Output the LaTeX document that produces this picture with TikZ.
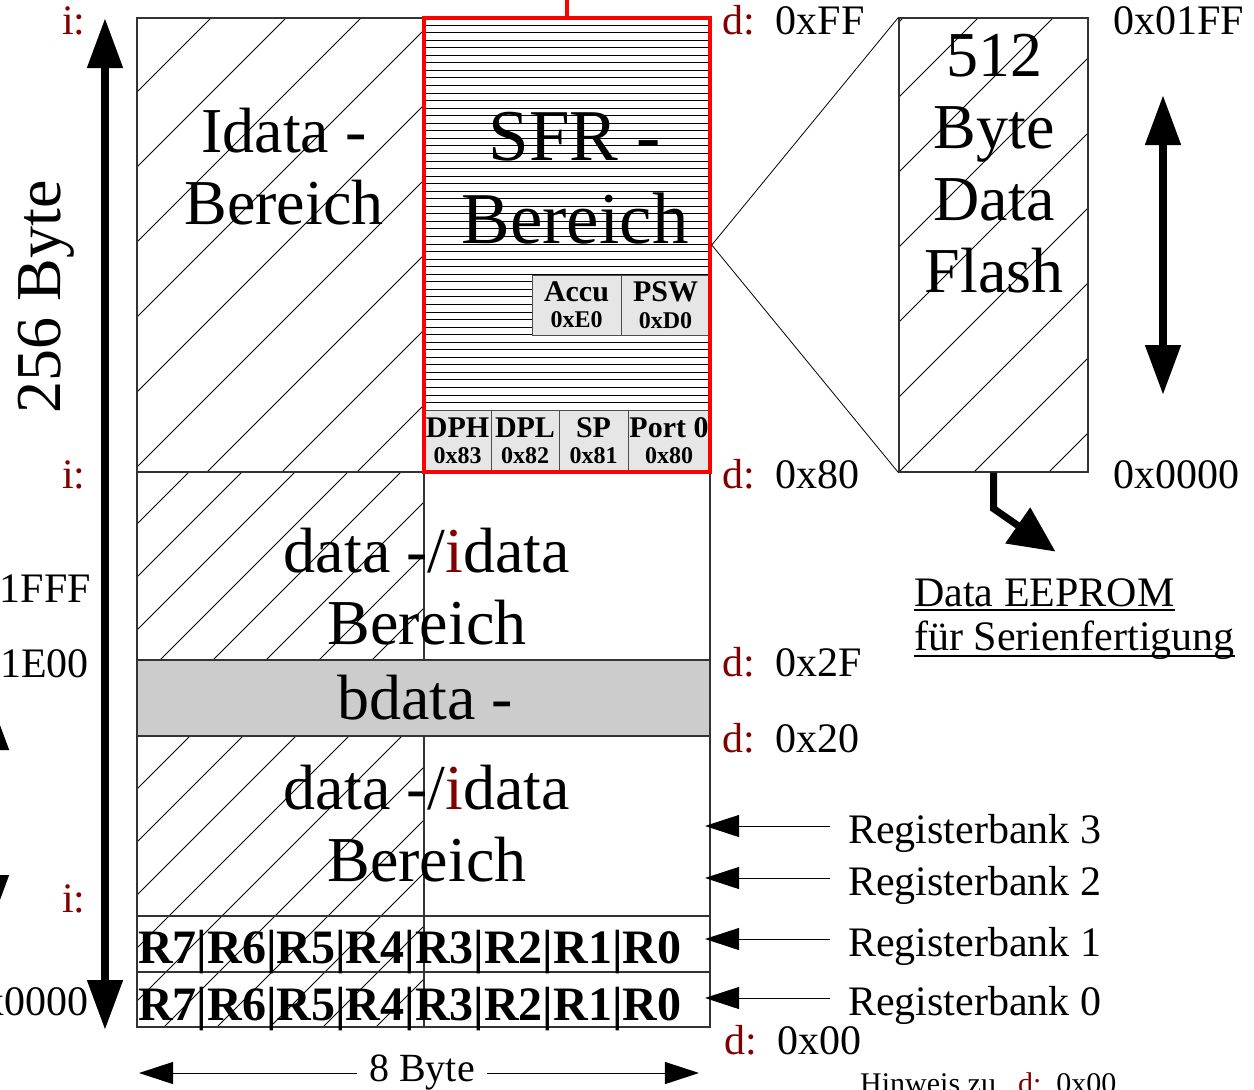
\documentclass[tikz,border=0pt]{standalone}
\usepackage{fontspec}
\setmainfont{Liberation Serif}
\usetikzlibrary{arrows.meta}
\definecolor{addrred}{RGB}{128,0,0}
\definecolor{bdgray}{RGB}{204,204,204}
\definecolor{reggray}{RGB}{230,230,230}
\newcommand{\bigfont}{\fontsize{64}{72}\selectfont}
\newcommand{\sfrfont}{\fontsize{73}{83}\selectfont}
\newcommand{\adrfont}{\fontsize{42}{50}\selectfont}
\newcommand{\regtop}{\fontsize{30}{30}\selectfont}
\newcommand{\regbot}{\fontsize{24}{30}\selectfont}
\tikzset{
  area/.style={draw=black!80,line width=1.2pt},
  hatch/.style={line width=0.8pt},
  big/.style={font=\bigfont,align=center,inner sep=0pt},
  addr/.style={anchor=base west,font=\adrfont,inner sep=0pt},
  reg/.style={draw=black!70,fill=reggray,inner sep=0pt,align=center,font=\bfseries},
  bankrow/.style={anchor=base west,font=\fontsize{48}{48}\selectfont\bfseries,inner sep=0pt},
  thinarrow/.style={-{Triangle[length=34pt,width=22pt]},line width=1pt},
  bigarrow/.style={{Triangle[length=50pt,width=34pt]}-{Triangle[length=50pt,width=34pt]},line width=8pt},
}
\begin{document}
\begin{tikzpicture}[x=1pt,y=-1pt]
\useasboundingbox (0,0) rectangle (1254,1090);
% schraffuren
\begin{scope}
  \clip (137,18) rectangle (424,472);
  \foreach \c in {154,229,...,904} \draw[hatch] (\c,0) -- ++(-1100,1100);
\end{scope}
\begin{scope}
  \clip (137,472) rectangle (424,1027);
  \foreach \c in {608,661,...,1456} \draw[hatch] (\c,0) -- ++(-1100,1100);
\end{scope}
\begin{scope}
  \clip (899,18) rectangle (1088,472);
  \foreach \c in {921,996,...,1596} \draw[hatch] (\c,0) -- ++(-1100,1100);
\end{scope}
\foreach \k in {0,...,50} \draw[hatch] (424,{25+7.55*\k}) -- (710,{25+7.55*\k});
% bereiche
\draw[area] (137,18) rectangle (424,472);
\draw[area] (137,472) rectangle (710,1027);
\draw[area] (424,472) -- (424,1027);
\draw[area,fill=bdgray] (137,660) rectangle (710,736);
\draw[area] (137,916) -- (710,916);
\draw[area] (137,972) -- (710,972);
\node[reg,minimum width=89pt,minimum height=60pt] (accu) at (576.5,305) {\regtop Accu\\[9pt]\regbot 0xE0};
\node[reg,minimum width=89pt,minimum height=60pt] (psw) at (665.5,305) {\regtop PSW\\[9pt]\regbot 0xD0};
\node[reg,minimum width=67pt,minimum height=62pt] (dph) at (457.5,441) {\regtop DPH\\[9pt]\regbot 0x83};
\node[reg,minimum width=68pt,minimum height=62pt] (dpl) at (525,441) {\regtop DPL\\[9pt]\regbot 0x82};
\node[reg,minimum width=69pt,minimum height=62pt] (sp) at (593.5,441) {\regtop SP\\[9pt]\regbot 0x81};
\node[reg,minimum width=82pt,minimum height=62pt] (port) at (669,441) {\regtop Port 0\\[9pt]\regbot 0x80};
\node[draw=red,line width=3.5pt,minimum width=286pt,minimum height=454pt,inner sep=0pt] (sfr) at (567,245) {};
\draw[red,line width=4pt] (sfr.north) -- ++(0,-22);
\node[area,minimum width=189pt,minimum height=454pt,inner sep=0pt] (flash) at (993.5,245) {};
\draw[line width=0.8pt] (sfr.east) -- (flash.north west);
\draw[line width=0.8pt] (sfr.east) -- (flash.south west);
% texte
\node[big] (idata) at (284,167) {Idata -\\Bereich};
\node[big,font=\sfrfont] (sfrtxt) at (575,178) {SFR -\\Bereich};
\node[big] (data1) at (427,587) {data -/\textcolor{addrred}{i}data\\Bereich};
\node[big] (bdata) at (425,698) {bdata -};
\node[big] (data2) at (427,824) {data -/\textcolor{addrred}{i}data\\Bereich};
\node[big] (flashtxt) at (994,164) {512\\Byte\\Data\\Flash};
\node[big,rotate=90] (bytes) at (46,297) {256 Byte};
\node[bankrow] (bank1) at (138,963) {R7|R6|R5|R4|R3|R2|R1|R0};
\node[bankrow] (bank0) at (138,1020) {R7|R6|R5|R4|R3|R2|R1|R0};
% adressen
\node[addr] (itop) at (62,34) {\textcolor{addrred}{i:}};
\node[addr] (imid) at (62,488) {\textcolor{addrred}{i:}};
\node[addr] (ilow) at (62,912) {\textcolor{addrred}{i:}};
\node[addr] (dff) at (722,34) {\textcolor{addrred}{d:}\hspace{21pt}0xFF};
\node[addr] (d80) at (722,488) {\textcolor{addrred}{d:}\hspace{21pt}0x80};
\node[addr] (d2f) at (722,676) {\textcolor{addrred}{d:}\hspace{21pt}0x2F};
\node[addr] (d20) at (722,752) {\textcolor{addrred}{d:}\hspace{21pt}0x20};
\node[addr] (d00) at (724,1054) {\textcolor{addrred}{d:}\hspace{21pt}0x00};
\node[addr] (f1ff) at (1113,34) {0x01FF};
\node[addr] (f000) at (1113,488) {0x0000};
\node[addr,anchor=base east] (x1fff) at (91,602) {0x1FFF};
\node[addr,anchor=base east] (x1e00) at (89,677) {0x1E00};
\node[addr,anchor=base east] (x0000) at (89,1015) {0x0000};
% pfeile
\draw[bigarrow] (105,18) -- (105,1030);
\draw[bigarrow] (-9,700) -- (-9,925);
\draw[bigarrow] (1163,95) -- (1163,395);
\draw[-{Triangle[length=46pt,width=42pt]},line width=7pt] (flash.south) -- ++(0,36) -- ++(62,43);
\node[addr] (ee1) at (914,606) {Data EEPROM};
\node[addr] (ee2) at (914,650) {für Serienfertigung};
\draw[line width=2pt] ([yshift=-4pt]ee1.base west) -- ([yshift=-4pt]ee1.base east);
\draw[line width=2pt] ([yshift=-6pt]ee2.base west) -- ([yshift=-6pt]ee2.base east);
\node[addr] (rb3) at (848,843) {Registerbank 3};
\node[addr] (rb2) at (848,895) {Registerbank 2};
\node[addr] (rb1) at (848,956) {Registerbank 1};
\node[addr] (rb0) at (848,1015) {Registerbank 0};
\foreach \r in {rb3,rb2,rb1,rb0} \draw[thinarrow] (\r.base west) ++(-18,-17) -- ++(-125,0);
\node[font=\fontsize{40}{48}\selectfont,inner xsep=12pt,inner ysep=0pt] (eight) at (422,1073) {8 Byte};
\draw[thinarrow] (eight.west) -- ++(-218,0);
\draw[thinarrow] (eight.east) -- ++(212,0);
\node[anchor=base west,font=\fontsize{30}{36}\selectfont,inner sep=0pt] (hint) at (860,1093) {Hinweis zu\hspace{22pt}\textcolor{addrred}{d:}\hspace{15pt}0x00};
\end{tikzpicture}
\end{document}
